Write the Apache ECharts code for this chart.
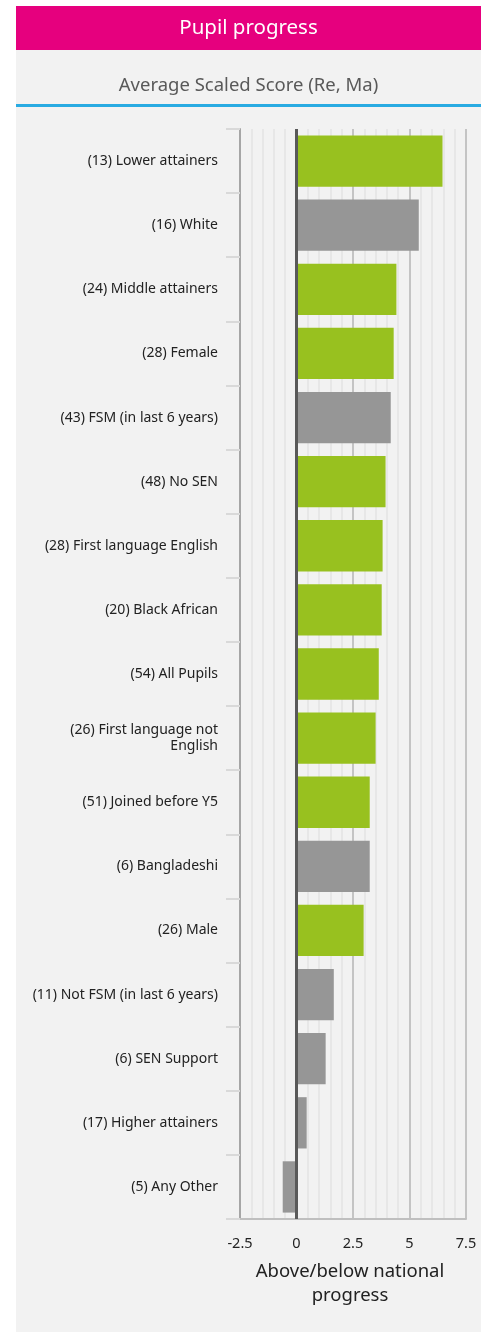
<!DOCTYPE html>
<html>
<head>
<meta charset="utf-8">
<script src="https://cdn.jsdelivr.net/npm/echarts@6/dist/echarts.min.js"></script>
<style>
  html, body { margin: 0; padding: 0; background: #ffffff; }
  #chart { width: 490px; height: 1334px; }
</style>
</head>
<body>
<div id="chart"></div>
<script>
// groups, top to bottom
var categories = [
  '(13) Lower attainers', '(16) White', '(24) Middle attainers', '(28) Female',
  '(43) FSM (in last 6 years)', '(48) No SEN', '(28) First language English',
  '(20) Black African', '(54) All Pupils', '(26) First language not\nEnglish',
  '(51) Joined before Y5', '(6) Bangladeshi', '(26) Male',
  '(11) Not FSM (in last 6 years)', '(6) SEN Support', '(17) Higher attainers',
  '(5) Any Other'
];
var progress = [6.46, 5.41, 4.42, 4.30, 4.17, 3.94, 3.81, 3.77, 3.64, 3.50,
                3.24, 3.24, 2.97, 1.65, 1.29, 0.45, -0.61];
// 1 = highlighted (green), 0 = grey
var highlight = [1, 0, 1, 1, 0, 1, 1, 1, 1, 1, 1, 0, 1, 0, 0, 0, 0];
var xTicks = [-2.5, 0, 2.5, 5, 7.5];

var GREEN = '#98c11f';
var GREY = '#969696';
var FONT = '"Noto Sans"';

function pupilChart() {
  var myChart = echarts.init(document.getElementById('chart'));
  var barData = [];
  for (var i = 0; i < progress.length; i++) {
    barData.push({
      value: progress[i],
      itemStyle: { color: highlight[i] ? GREEN : GREY }
    });
  }
  var option = {
    animation: false,
    textStyle: { fontFamily: FONT },
    graphic: [
      { type: 'rect', z: -10, shape: { x: 16, y: 50, width: 465, height: 1282 }, style: { fill: '#f2f2f2' } },
      { type: 'rect', z: -10, shape: { x: 16, y: 6, width: 465, height: 44 }, style: { fill: '#e6007e' } },
      { type: 'rect', z: -10, shape: { x: 16, y: 104, width: 465, height: 3 }, style: { fill: '#29abe2' } },
      { type: 'text', x: 248.5, y: 28, style: { text: 'Pupil progress', fill: '#ffffff', font: '20.5px ' + FONT, textAlign: 'center', textVerticalAlign: 'middle' } },
      { type: 'text', x: 248.5, y: 86, style: { text: 'Average Scaled Score (Re, Ma)', fill: '#595959', font: '18.5px ' + FONT, textAlign: 'center', textVerticalAlign: 'middle' } },
      { type: 'text', x: 350, y: 1284, style: { text: 'Above/below national\nprogress', fill: '#222222', font: '18.5px ' + FONT, textAlign: 'center', textVerticalAlign: 'middle', lineHeight: 24 } }
    ],
    grid: {
      left: 240,
      top: 129,
      width: 226,
      height: 1090
    },
    xAxis: {
      type: 'value',
      min: -2.5,
      max: 7.5,
      interval: 2.5,
      axisLine: { show: true, lineStyle: { color: '#bfbfbf', width: 2 } },
      axisTick: { show: false },
      axisLabel: {
        color: '#222222',
        fontSize: 14.5,
        margin: 17,
        formatter: function (v) {
          return xTicks.indexOf(v) >= 0 ? String(v) : '';
        }
      },
      splitLine: { show: true, lineStyle: { color: '#c4c4c4', width: 2 } },
      minorTick: { show: false, splitNumber: 5 },
      minorSplitLine: { show: true, lineStyle: { color: '#e4e4e4', width: 1.5 } }
    },
    yAxis: {
      type: 'category',
      inverse: true,
      data: categories,
      axisLine: { show: true, onZero: false, lineStyle: { color: '#a6a6a6', width: 2 } },
      axisTick: { show: true, alignWithLabel: false, length: 14, lineStyle: { color: '#d9d9d9', width: 2 } },
      axisLabel: {
        color: '#222222',
        fontSize: 14,
        margin: 22,
        lineHeight: 16,
        align: 'right',
        padding: [5, 0, 0, 0]
      },
      splitLine: { show: false }
    },
    series: [
      {
        name: 'Progress',
        type: 'bar',
        data: barData,
        barCategoryGap: '20%',
        markLine: {
          silent: true,
          symbol: 'none',
          label: { show: false },
          lineStyle: { color: '#595959', width: 3, type: 'solid' },
          data: [{ xAxis: 0 }]
        }
      }
    ]
  };
  myChart.setOption(option);
}
pupilChart();
</script>
</body>
</html>
